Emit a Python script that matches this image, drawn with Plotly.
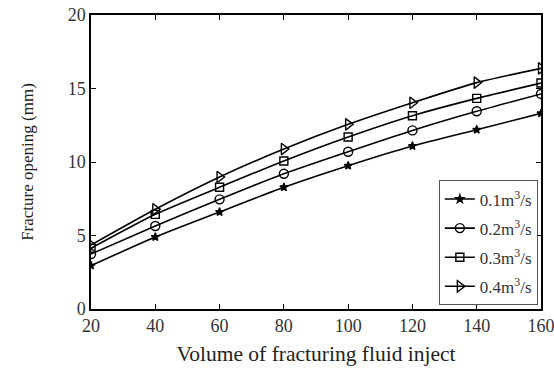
import plotly.graph_objects as go

volume = [20, 40, 60, 80, 100, 120, 140, 160]
rate_labels = ["0.1m<sup>3</sup>/s", "0.2m<sup>3</sup>/s", "0.3m<sup>3</sup>/s", "0.4m<sup>3</sup>/s"]
opening_01 = [2.95, 4.9, 6.6, 8.28, 9.75, 11.09, 12.2, 13.31]
opening_02 = [3.74, 5.65, 7.46, 9.2, 10.7, 12.15, 13.45, 14.63]
opening_03 = [4.13, 6.44, 8.28, 10.07, 11.7, 13.15, 14.33, 15.37]
opening_04 = [4.35, 6.78, 8.98, 10.88, 12.56, 14.03, 15.4, 16.37]

series = [opening_01, opening_02, opening_03, opening_04]
symbols = ["star", "circle-open", "square-open", "triangle-right-open"]
sizes = [6, 9, 8, 10]

FONT = "Liberation Serif, Times New Roman, serif"

fig = go.Figure()
for i, (name, ys, sym, sz) in enumerate(zip(rate_labels, series, symbols, sizes)):
    fig.add_trace(go.Scatter(
        x=volume, y=ys, name=name, legendgroup=f"g{i}",
        mode="lines+markers",
        line=dict(color="black", width=1.6, shape="spline", smoothing=0.6),
        marker=dict(symbol=sym, size=sz, color="black",
                    line=dict(color="black", width=1.4)),
    ))

axis_common = dict(
    showline=True, linecolor="black", linewidth=1.5, mirror="ticks",
    ticks="inside", ticklen=5, tickwidth=1.2, tickcolor="black",
    showgrid=False, zeroline=False, automargin=False,
    ticklabeloverflow="allow",
    tickfont=dict(family=FONT, size=18, color="#333"),
)

fig.update_xaxes(range=[20, 160], tickvals=volume, **axis_common,
                 title=dict(text="Volume of fracturing fluid inject",
                            font=dict(family=FONT, size=21.5, color="#222"),
                            standoff=11))
fig.update_yaxes(range=[0, 20], tickvals=[0, 5, 10, 15, 20], **axis_common,
                 title=dict(text="Fracture opening (mm)",
                            font=dict(family=FONT, size=17, color="#222"),
                            standoff=30))

fig.update_layout(
    width=554, height=368,
    margin=dict(l=91, r=13, t=15, b=59),
    paper_bgcolor="white", plot_bgcolor="white",
    font=dict(family=FONT, color="#222"),
    legend=dict(
        x=0.993, y=0.012, xanchor="right", yanchor="bottom",
        bordercolor="#555", borderwidth=1, bgcolor="white",
        font=dict(family=FONT, size=17, color="#333"),
        itemwidth=30, tracegroupgap=4, traceorder="grouped",
    ),
)

fig.write_html("out.html")
